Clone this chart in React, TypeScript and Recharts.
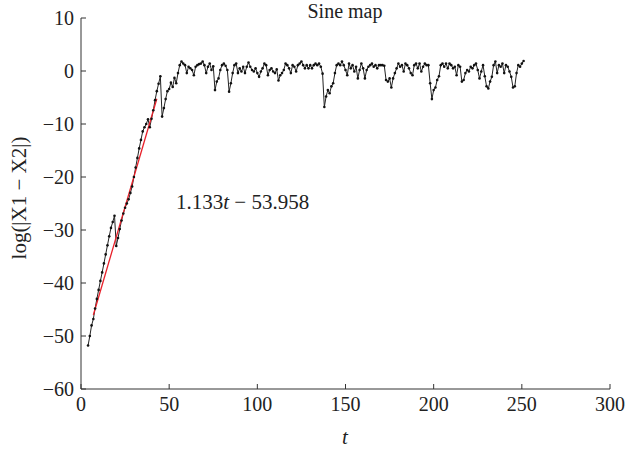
import React from 'react';
import { ComposedChart, Line, XAxis, YAxis } from 'recharts';

// t of the first plotted sample; samples are one per unit step of t
const START_T = 4;

// log(|X1 - X2|) for t = 4 .. 56 (exponential divergence phase)
const riseValues = [
  -51.8, -50.0, -48.0, -46.8, -44.8, -43.0, -41.3, -39.6, -38.0, -36.3,
  -34.6, -32.9, -31.2, -29.6, -28.5, -27.3, -33.0, -31.5, -29.8, -28.2,
  -26.9, -25.8, -25.0, -24.2, -23.0, -21.8, -20.0, -18.2, -16.4, -14.6,
  -13.0, -11.4, -10.6, -10.0, -9.1, -10.6, -9.0, -7.4, -5.5, -3.8,
  -2.4, -1.0, -8.6, -7.0, -5.3, -3.8, -3.4, -2.2, -3.0, -1.3,
  -2.3, -0.4, 1.1,
];
// t = 57 .. 123
const noiseA = [
  1.8, 1.4, 1.1, -0.4, 0.8, 0.5, 0.2, -0.8, 0.8, 1.1,
  1.3, 1.4, 1.8, 1.1, -0.4, 0.8, 1.4, 0.2, 0.9, -3.6,
  -2.0, -1.4, 0.2, 1.1, 1.4, 1.0, 0.2, -3.9, -2.3, -0.4,
  1.1, 1.4, -0.4, 0.5, -0.1, 0.8, -0.4, 0.8, 1.6, 0.8,
  0.2, -0.1, 0.5, -0.4, -1.1, -0.1, 0.5, 1.4, 1.1, -0.8,
  0.2, 0.5, -0.1, -0.4, 0.3, -1.8, -0.8, -0.4, 0.2, 1.4,
  1.1, 0.5, -0.4, 1.1, 0.8, -0.1, 1.1,
];
// t = 124 .. 195
const noiseB = [
  1.4, 1.8, 1.1, 0.5, 1.1, 0.5, 1.1, 0.5, 1.1, 1.4,
  1.1, 1.4, 0.8, -0.5, -6.8, -4.8, -3.6, -4.2, -2.9, -2.3,
  -0.4, 1.1, 1.4, 1.1, 1.8, 1.1, 0.2, -0.8, 1.4, 0.5,
  1.1, -0.1, 0.8, -1.4, 0.2, 1.4, 0.5, -1.4, 0.2, 0.8,
  1.1, 1.4, 0.8, 1.1, 0.5, 1.1, 1.1, 1.1, 1.0, -1.7,
  -2.0, -1.4, -3.1, -1.4, -0.4, 0.5, 1.4, 0.8, 1.1, -0.1,
  1.4, 1.1, 0.5, -0.4, -0.8, 1.1, 1.4, 0.5, 1.4, -0.1,
  0.8, 1.4,
];
// t = 196 .. 251
const noiseC = [
  1.1, 1.1, -2.3, -5.3, -3.6, -3.1, -1.7, -1.0, 1.1, 1.4,
  0.8, 1.4, 0.5, 1.4, 1.1, 0.5, 0.8, -0.8, 1.1, 0.8,
  -2.0, -1.7, -0.4, 0.2, -0.1, 0.8, 0.5, 1.1, 1.4, 0.2,
  -1.4, -0.1, 1.1, -1.0, -2.9, -3.3, -2.0, -1.1, 1.1, 1.8,
  -0.4, 1.1, 0.8, 1.4, -0.4, 1.1, 0.8, -0.1, -1.1, -3.1,
  -2.9, -0.4, 1.1, 0.8, 1.4, 1.9,
];

// fitted line 1.133t - 53.958, drawn over t = 7 .. 43
const fitT = [7, 43];
const fitV = [-46.03, -5.24];

const xTicks = [0, 50, 100, 150, 200, 250, 300];
const yTicks = [-60, -50, -40, -30, -20, -10, 0, 10];

const allValues = [...riseValues, ...noiseA, ...noiseB, ...noiseC];
const seriesData = allValues.map((v, i) => ({ t: START_T + i, v }));
const fitData = fitT.map((t, i) => ({ t, v: fitV[i] }));

const FONT = "'Liberation Serif', 'Times New Roman', serif";
const FS = 20;
const AXIS = '#333';

const fmt = (v: number) => (v < 0 ? `\u2212${Math.abs(v)}` : `${v}`);

export default function App() {
  return (
    <div style={{ position: 'absolute', left: 0, top: 0, width: 625, height: 451, background: '#fff' }}>
      <ComposedChart
        width={625}
        height={451}
        margin={{ top: 18, right: 15, bottom: 32, left: 21 }}
      >
        <XAxis
          type="number"
          dataKey="t"
          domain={[0, 300]}
          ticks={xTicks}
          interval={0}
          allowDataOverflow
          height={30}
          tickSize={-5}
          tickMargin={13}
          axisLine={{ stroke: AXIS, strokeWidth: 1 }}
          tickLine={{ stroke: AXIS, strokeWidth: 1 }}
          tick={{ fontFamily: FONT, fontSize: FS, fill: '#222' }}
          tickFormatter={fmt}
        />
        <YAxis
          type="number"
          domain={[-60, 10]}
          ticks={yTicks}
          interval={0}
          allowDataOverflow
          width={60}
          tickSize={-5}
          tickMargin={12}
          axisLine={{ stroke: AXIS, strokeWidth: 1 }}
          tickLine={{ stroke: AXIS, strokeWidth: 1 }}
          tick={{ fontFamily: FONT, fontSize: FS, fill: '#222' }}
          tickFormatter={fmt}
        />
        <Line
          data={seriesData}
          dataKey="v"
          type="linear"
          stroke="#222"
          strokeWidth={1}
          dot={{ r: 1.3, fill: '#111', stroke: 'none' }}
          isAnimationActive={false}
        />
        <Line
          data={fitData}
          dataKey="v"
          type="linear"
          stroke="#e8202a"
          strokeWidth={1.3}
          dot={false}
          isAnimationActive={false}
        />
      </ComposedChart>
      <svg
        width={625}
        height={451}
        style={{ position: 'absolute', left: 0, top: 0, pointerEvents: 'none' }}
      >
        <text x={345} y={18} textAnchor="middle" fontFamily={FONT} fontSize={20} fill="#222">
          Sine map
        </text>
        <text x={176} y={209} fontFamily={FONT} fontSize={21} fill="#222">
          1.133<tspan fontStyle="italic">t</tspan> {'\u2212'} 53.958
        </text>
        <text x={345} y={444} textAnchor="middle" fontFamily={FONT} fontSize={21} fontStyle="italic" fill="#222">
          t
        </text>
        <text
          x={26}
          y={198}
          textAnchor="middle"
          fontFamily={FONT}
          fontSize={21}
          fill="#222"
          transform="rotate(-90 26 198)"
        >
          log(|X1 {'\u2212'} X2|)
        </text>
      </svg>
    </div>
  );
}
